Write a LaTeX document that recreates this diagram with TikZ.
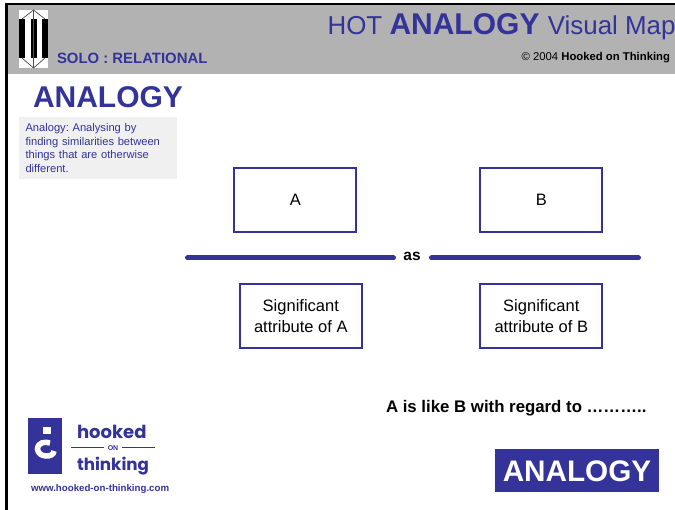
\documentclass[tikz,border=0pt]{standalone}
\usepackage{fontspec}
\setmainfont{Liberation Sans}
\newfontfamily\logofont{Poppins}
\usepackage{tikz}
\definecolor{hotblue}{HTML}{333399}
\definecolor{hotgrey}{HTML}{B2B2B2}
\definecolor{hotpale}{HTML}{F0F0F0}
\newcommand{\fsz}[1]{\fontsize{#1}{#1}\selectfont}
\frenchspacing

\begin{document}
\begin{tikzpicture}[x=1pt, y=-1pt,
  every node/.style={inner sep=0pt, outer sep=0pt},
  mapbox/.style={draw=hotblue, line width=2pt, fill=white, minimum width=122pt, minimum height=64pt, align=center, font=\fsz{16.5}},
  rulebar/.style={hotblue, line width=5pt, line cap=round},
  bluetext/.style={text=hotblue, anchor=base west}]
  \useasboundingbox (0,0) rectangle (675,510);
  \fill [white] (0,0) rectangle (675,510);
  % header band
  \fill [hotgrey] (7,4) rectangle (675,74);
  \draw [black, line width=2.4pt] (6.5,510) -- (6.5,4) -- (675,4);
  % solo symbol
  \fill [white] (19,10) rectangle (48,68);
  \foreach \x in {19,31,42}
    \fill [black] (\x,19) rectangle (\x+6,58);
  \draw [black!70, line width=.7pt] (22,19) -- (33.5,10) -- (45,19) (22,58) -- (33.5,68) -- (45,58) (33.5,10) -- (33.5,68);
  % header text
  \node [bluetext, font=\fsz{14.9}\bfseries] (solo) at (57,64) {SOLO : RELATIONAL};
  \node [text=hotblue, anchor=base east, font=\fsz{25.9}] (title) at (675.5,35) {HOT \fsz{30}\bfseries ANALOGY \fsz{25.9}\mdseries Visual Map};
  \node [anchor=base east, font=\fsz{11.3}] (copy) at (670,61) {© 2004 \textbf{Hooked on Thinking}};
  % heading and definition
  \node [bluetext, font=\fsz{30}\bfseries] (head) at (33,108) {ANALOGY};
  \node [fill=hotpale, text=hotblue, anchor=north west, minimum width=157.5pt, minimum height=62pt, text width=145pt, inner xsep=6.5pt, align=left, font=\fontsize{11.15}{13.4}\selectfont] (defn) at (19,117) {Analogy: Analysing by\\finding similarities between\\things that are otherwise\\different.};
  % the map
  \node [mapbox] (a) at (295.3,200) {A};
  \node [mapbox] (b) at (541.3,200) {B};
  \node [mapbox] (sa) at (300.8,316) {Significant\\[4.5pt]attribute of A};
  \node [mapbox] (sb) at (541.3,316) {Significant\\[4.5pt]attribute of B};
  \node [font=\fsz{15.5}\bfseries] (as) at (412,256) {as};
  \coordinate (ruleL) at (187.5,258);
  \coordinate (ruleLe) at (393.5,258);
  \coordinate (ruleRs) at (431.5,258);
  \coordinate (ruleR) at (638.5,258);
  \draw [rulebar] (ruleL) -- (ruleLe);
  \draw [rulebar] (ruleRs) -- (ruleR);
  % bottom right
  \node [anchor=base west, font=\fsz{16.8}\bfseries] (like) at (386,413) {A is like B with regard to ………..};
  \node [fill=hotblue, text=white, minimum width=164pt, minimum height=43pt, text height=23pt, text depth=0pt, font=\fsz{29.7}\bfseries] (tag) at (577,470.5) {ANALOGY};
  % hooked on thinking logo
  \fill [hotblue] (28,418) rectangle (62,474);
  \fill [white] (43,427) rectangle (51,434);
  \draw [white, line width=5.5pt] (54,451) .. controls (54,458) and (38,458) .. (37.5,449) .. controls (38,442) and (45,441.5) .. (50,443);
  \node [bluetext, font=\logofont\fsz{18}\bfseries] (hooked) at (77,438.5) {hooked};
  \node [text=hotblue, font=\fsz{7}\bfseries] (on) at (113,448) {ON};
  \draw [hotblue, line width=.8pt] (71,447.5) -- (104,447.5) (122,447.5) -- (155,447.5);
  \node [bluetext, font=\logofont\fsz{16.7}\bfseries] (thinking) at (77,471) {thinking};
  \node [bluetext, font=\fsz{9.7}\bfseries] (url) at (31,491) {www.hooked-on-thinking.com};
\end{tikzpicture}
\end{document}
